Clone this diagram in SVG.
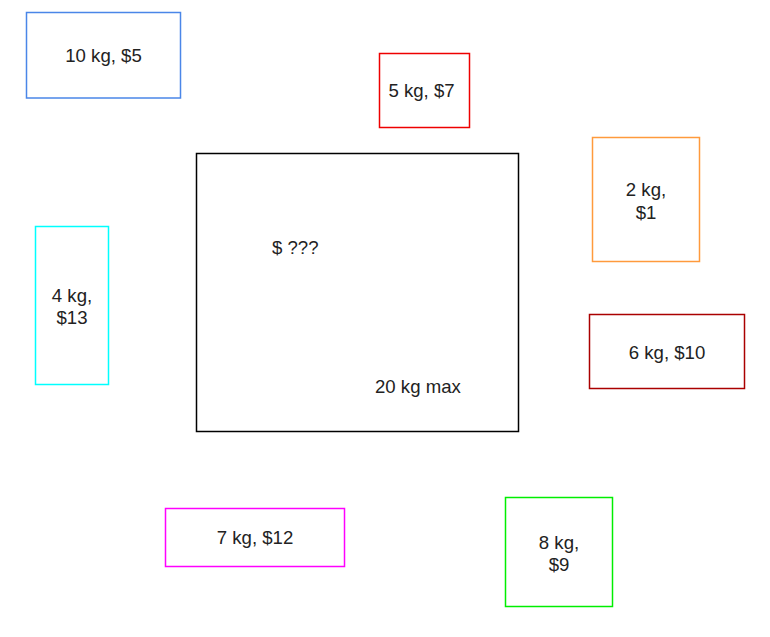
<svg xmlns="http://www.w3.org/2000/svg" width="770" height="637" viewBox="0 0 770 637">
<style>
rect{fill:#fff;stroke-width:1.5}
text{font-family:"Liberation Sans",Arial,sans-serif;font-size:18.6px;fill:#222;text-anchor:middle}
</style>
<rect x="0" y="0" width="770" height="637" fill="#fff" stroke="none"/>
<g id="knapsack">
<rect x="196.5" y="153.5" width="322" height="278" stroke="#000"/>
<text x="272" y="253.5" style="text-anchor:start">$ ???</text>
<text x="375" y="392.5" style="text-anchor:start">20 kg max</text>
</g>
<g id="item10">
<rect x="26.5" y="12.5" width="154" height="85.5" stroke="#4a86e8"/>
<text x="103.5" y="62">10 kg, $5</text>
</g>
<g id="item5">
<rect x="379.5" y="53.5" width="90" height="74" stroke="#e00"/>
<text x="421.5" y="97">5 kg, $7</text>
</g>
<g id="item2">
<rect x="592.5" y="137.5" width="107" height="124" stroke="#ff9a3c"/>
<text x="646" y="196">2 kg,</text>
<text x="646" y="218.5">$1</text>
</g>
<g id="item6">
<rect x="589.5" y="314.5" width="155" height="74" stroke="#aa0000"/>
<text x="667" y="358.5">6 kg, $10</text>
</g>
<g id="item4">
<rect x="35.5" y="226.5" width="73" height="158" stroke="#00ffff"/>
<text x="72" y="301.5">4 kg,</text>
<text x="72" y="324">$13</text>
</g>
<g id="item7">
<rect x="165.5" y="508.5" width="179" height="58" stroke="#ff00ff"/>
<text x="255" y="543.5">7 kg, $12</text>
</g>
<g id="item8">
<rect x="505.5" y="497.5" width="107" height="109" stroke="#00ee00"/>
<text x="559" y="548.5">8 kg,</text>
<text x="559" y="570.5">$9</text>
</g>
<g id="connectors"></g>
</svg>
